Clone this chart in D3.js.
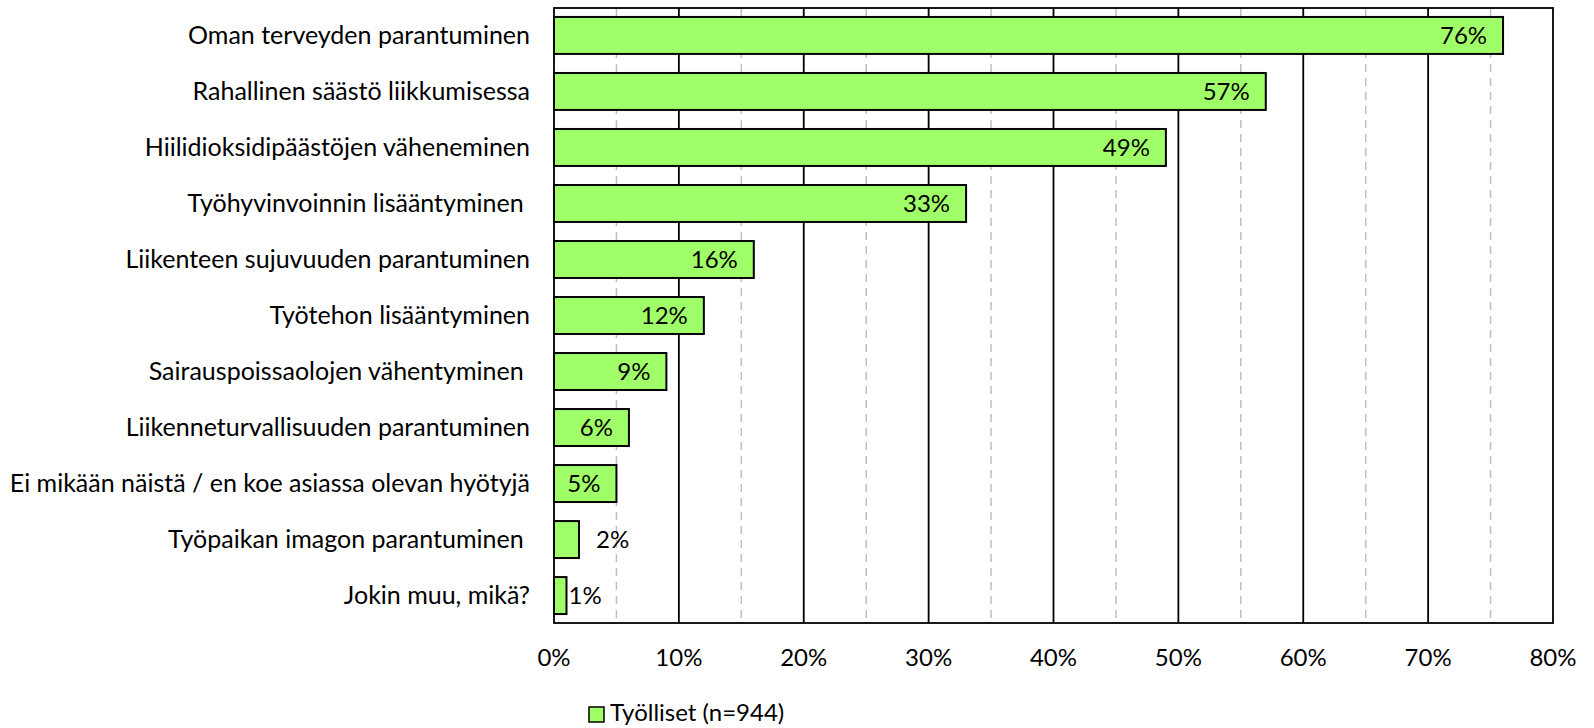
<!DOCTYPE html>
<html><head><meta charset="utf-8">
<script src="https://cdn.jsdelivr.net/npm/d3@7"></script>
<style>
body{margin:0;background:#fff;}
text{font-family:Lato, "Liberation Sans", sans-serif;fill:#000;white-space:pre;}
</style></head>
<body><svg id="c" width="1594" height="728"></svg>
<script>
const categories = [
  "Oman terveyden parantuminen",
  "Rahallinen säästö liikkumisessa",
  "Hiilidioksidipäästöjen väheneminen",
  "Työhyvinvoinnin lisääntyminen ",
  "Liikenteen sujuvuuden parantuminen",
  "Työtehon lisääntyminen",
  "Sairauspoissaolojen vähentyminen ",
  "Liikenneturvallisuuden parantuminen",
  "Ei mikään näistä / en koe asiassa olevan hyötyjä",
  "Työpaikan imagon parantuminen ",
  "Jokin muu, mikä?"
];
const values = [76, 57, 49, 33, 16, 12, 9, 6, 5, 2, 1];
const majorTicks = [0, 10, 20, 30, 40, 50, 60, 70, 80];
const minorTicks = [5, 15, 25, 35, 45, 55, 65, 75];
const seriesName = "Työlliset (n=944)";

const svg = d3.select("#c");
const L = 554, R = 1553, T = 8, B = 623;
const fill = "#A0FF68";
const fsText = 25, fsNum = 24;

const x = d3.scaleLinear().domain([0, 80]).range([L, R]);
const y = d3.scaleBand().domain(categories).range([T, B]).paddingInner(0.34).paddingOuter(0.16);

// minor dashed gridlines
svg.append("g").selectAll("line").data(minorTicks).join("line")
  .attr("x1", d => x(d)).attr("x2", d => x(d)).attr("y1", T).attr("y2", B)
  .attr("stroke", "#BFBFBF").attr("stroke-width", 1.5).attr("stroke-dasharray", "8,6");

// major solid gridlines
svg.append("g").selectAll("line").data(majorTicks.slice(1, -1)).join("line")
  .attr("x1", d => x(d)).attr("x2", d => x(d)).attr("y1", T).attr("y2", B)
  .attr("stroke", "#000").attr("stroke-width", 1.8);

// plot frame
svg.append("rect").attr("x", L).attr("y", T).attr("width", R - L).attr("height", B - T)
  .attr("fill", "none").attr("stroke", "#000").attr("stroke-width", 1.8);

// bars
svg.append("g").selectAll("rect").data(values).join("rect")
  .attr("x", x(0)).attr("y", (d, i) => y(categories[i]))
  .attr("width", d => x(d) - x(0)).attr("height", y.bandwidth())
  .attr("fill", fill).attr("stroke", "#000").attr("stroke-width", 2);

// data labels
svg.append("g").selectAll("text").data(values).join("text")
  .attr("x", d => d >= 5 ? x(d) - 16 : x(d) + (d >= 2 ? 17 : 2))
  .attr("y", (d, i) => y(categories[i]) + y.bandwidth() / 2)
  .attr("dy", "0.35em")
  .attr("text-anchor", d => d >= 5 ? "end" : "start")
  .attr("font-size", fsNum)
  .text(d => d + "%");

// category labels
svg.append("g").selectAll("text").data(categories).join("text")
  .attr("x", 530).attr("y", d => y(d) + y.bandwidth() / 2)
  .attr("dy", "0.35em").attr("text-anchor", "end").attr("font-size", fsText)
  .text(d => d);

// x tick labels
svg.append("g").selectAll("text").data(majorTicks).join("text")
  .attr("x", d => x(d)).attr("y", 658).attr("dy", "0.35em")
  .attr("text-anchor", "middle").attr("font-size", fsNum)
  .text(d => d + "%");

// legend
svg.append("rect").attr("x", 589).attr("y", 707).attr("width", 15).attr("height", 15)
  .attr("fill", fill).attr("stroke", "#000").attr("stroke-width", 1.5);
svg.append("text").attr("x", 610).attr("y", 713).attr("dy", "0.35em")
  .attr("font-size", 24).text(seriesName);
</script>
</body></html>
